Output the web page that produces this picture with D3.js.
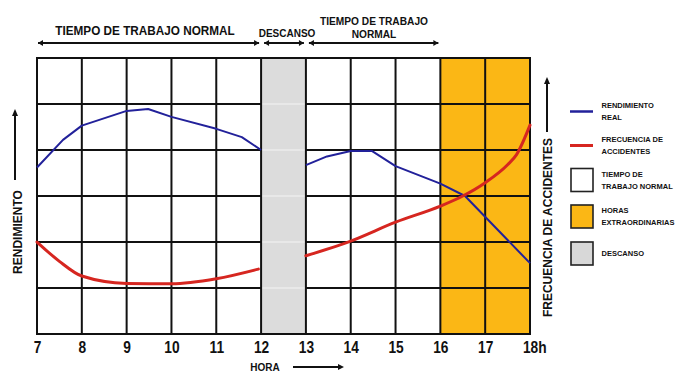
<!DOCTYPE html>
<html>
<head>
<meta charset="utf-8">
<script src="https://cdn.jsdelivr.net/npm/d3@7"></script>
<style>
  html, body { margin: 0; padding: 0; background: #fff; }
  svg { display: block; font-family: "Liberation Sans", Arial, sans-serif; font-weight: bold; }
</style>
</head>
<body>
<svg id="chart" width="676" height="372"></svg>
<script>
// Hours of the working day (grid columns) and their labels
const hours = [7, 8, 9, 10, 11, 12, 13, 14, 15, 16, 17, 18];
const tickLabels = ["7", "8", "9", "10", "11", "12", "13", "14", "15", "16", "17", "18h"];

// Vertical grid rows (relative units, 0 = bottom)
const rows = [0, 1, 2, 3, 4, 5, 6];

// Work periods of the day
const periods = [
  { key: "normal", from: 7, to: 12, label: ["TIEMPO DE TRABAJO NORMAL"] },
  { key: "descanso", from: 12, to: 13, label: ["DESCANSO"] },
  { key: "normal", from: 13, to: 16, label: ["TIEMPO DE TRABAJO", "NORMAL"] },
  { key: "extra", from: 16, to: 18, label: null }
];

// Rendimiento real (morning and afternoon shifts)
const rendimientoManana = [[7, 3.62], [7.58, 4.22], [8, 4.53], [9, 4.85], [9.48, 4.89], [10, 4.72], [11, 4.46], [11.57, 4.28], [12, 4.0]];
const rendimientoTarde = [[13, 3.67], [13.47, 3.86], [14, 3.98], [14.47, 3.98], [15, 3.65], [15.5, 3.46], [16, 3.27], [16.55, 3.0], [18, 1.54]];

// Frecuencia de accidentes (morning and afternoon shifts)
const accidentesManana = [[7, 2.0], [7.5, 1.58], [8, 1.26], [9, 1.1], [10, 1.09], [11, 1.2], [11.94, 1.41]];
const accidentesTarde = [[13, 1.7], [14, 2.02], [15, 2.43], [16, 2.78], [16.5, 3.0], [17, 3.29], [17.5, 3.68], [17.7, 3.9], [18, 4.54]];

// Legend entries
const legendItems = [
  { type: "line", color: "#22219a", width: 2.5, label: ["RENDIMIENTO", "REAL"] },
  { type: "line", color: "#d62620", width: 3, label: ["FRECUENCIA DE", "ACCIDENTES"] },
  { type: "box", color: "#ffffff", label: ["TIEMPO DE", "TRABAJO NORMAL"] },
  { type: "box", color: "#fbb715", label: ["HORAS", "EXTRAORDINARIAS"] },
  { type: "box", color: "#d8d8d8", label: ["DESCANSO"] }
];

const fillFor = { normal: "#ffffff", descanso: "#dcdcdc", extra: "#fbb715" };
const BLUE = "#22219a", RED = "#d62620";

const svg = d3.select("#chart");
const x = d3.scaleLinear().domain([7, 18]).range([37, 530]);
const y = d3.scaleLinear().domain([0, 6]).range([334, 58]);
const yAcc = d3.scaleLinear().domain([0, 6]).range([334, 58]);

// Period backgrounds
svg.append("g").selectAll("rect").data(periods).join("rect")
  .attr("x", d => x(d.from)).attr("y", y(6))
  .attr("width", d => x(d.to) - x(d.from)).attr("height", y(0) - y(6))
  .attr("fill", d => fillFor[d.key]);

// Horizontal grid lines: black on work time, faint inside the break
const grid = svg.append("g");
periods.forEach(p => {
  grid.append("g").selectAll("line").data(rows.slice(1, -1)).join("line")
    .attr("x1", x(p.from)).attr("x2", x(p.to))
    .attr("y1", d => y(d)).attr("y2", d => y(d))
    .attr("stroke", p.key === "descanso" ? "#ededed" : "#111")
    .attr("stroke-width", p.key === "descanso" ? 1.5 : 2);
});
grid.append("g").selectAll("line").data([0, 6]).join("line")
  .attr("x1", x(7) - 1).attr("x2", x(18) + 1)
  .attr("y1", d => y(d)).attr("y2", d => y(d))
  .attr("stroke", "#111").attr("stroke-width", 2);
grid.append("g").selectAll("line").data(hours).join("line")
  .attr("x1", d => x(d)).attr("x2", d => x(d))
  .attr("y1", y(0)).attr("y2", y(6))
  .attr("stroke", "#111").attr("stroke-width", 2);

// Curves
const lineR = d3.line().x(d => x(d[0])).y(d => y(d[1]));
const lineA = d3.line().x(d => x(d[0])).y(d => yAcc(d[1])).curve(d3.curveMonotoneX);
[rendimientoManana, rendimientoTarde].forEach(s => {
  svg.append("path").attr("d", lineR(s)).attr("fill", "none")
    .attr("stroke", BLUE).attr("stroke-width", 2).attr("stroke-linejoin", "round");
});
[accidentesManana, accidentesTarde].forEach(s => {
  svg.append("path").attr("d", lineA(s)).attr("fill", "none")
    .attr("stroke", RED).attr("stroke-width", 3).attr("stroke-linecap", "round");
});

// Hour axis
const axis = svg.append("g").attr("transform", `translate(0,${y(0)})`)
  .call(d3.axisBottom(x).tickValues(hours).tickFormat((d, i) => tickLabels[i]).tickSize(0).tickPadding(8));
axis.select(".domain").remove();
axis.selectAll("text")
  .attr("font-size", 16).attr("font-weight", "bold").attr("fill", "#111")
  .attr("font-family", "'Liberation Sans', Arial, sans-serif")
  .attr("dx", (d, i) => i === hours.length - 1 ? 5 : 0)
  .attr("transform", "scale(0.86,1)");

// Arrow helper
function arrowHead(g, xTip, yTip, dir, len = 6, half = 3) {
  let pts;
  if (dir === "left") pts = [[xTip, yTip], [xTip + len, yTip - half], [xTip + len, yTip + half]];
  else if (dir === "right") pts = [[xTip, yTip], [xTip - len, yTip - half], [xTip - len, yTip + half]];
  else pts = [[xTip, yTip], [xTip - half, yTip + len], [xTip + half, yTip + len]];
  g.append("path").attr("d", d3.line()(pts) + "Z").attr("fill", "#111");
}

// Period annotations above the grid
const header = svg.append("g");
const arrowY = 43;
periods.filter(p => p.label).forEach((p, i) => {
  const x1 = x(p.from) + (i === 0 ? 1 : 3), x2 = x(p.to) - 2;
  header.append("line").attr("x1", x1).attr("x2", x2).attr("y1", arrowY).attr("y2", arrowY)
    .attr("stroke", "#111").attr("stroke-width", 2);
  arrowHead(header, x1, arrowY, "left", 5, 3);
  arrowHead(header, x2, arrowY, "right", 5, 3);
});
function condensed(g, text, cx, by, size, sx) {
  g.append("text").attr("transform", `translate(${cx},${by}) scale(${sx},1)`)
    .attr("text-anchor", "middle").attr("font-size", size).attr("fill", "#111").text(text);
}
condensed(header, periods[0].label[0], 145, 35, 12.5, 0.94);
condensed(header, periods[1].label[0], 287, 37, 10, 1);
condensed(header, periods[2].label[0], 374, 25, 10.5, 0.97);
condensed(header, periods[2].label[1], 374, 37.5, 10.5, 0.97);

// HORA label with arrow
const hora = svg.append("g");
condensed(hora, "HORA", 265, 371, 10, 1);
hora.append("line").attr("x1", 293).attr("x2", 340).attr("y1", 367).attr("y2", 367)
  .attr("stroke", "#111").attr("stroke-width", 2);
arrowHead(hora, 344, 367, "right", 6, 3);

// RENDIMIENTO vertical label
const leftLabel = svg.append("g");
leftLabel.append("text").attr("transform", "translate(21.5,232) rotate(-90)")
  .attr("text-anchor", "middle").attr("font-size", 12).attr("fill", "#111").text("RENDIMIENTO");
leftLabel.append("line").attr("x1", 15).attr("x2", 15).attr("y1", 180).attr("y2", 115)
  .attr("stroke", "#111").attr("stroke-width", 2);
arrowHead(leftLabel, 15, 109, "up", 7, 3);

// FRECUENCIA DE ACCIDENTES vertical label
const rightLabel = svg.append("g");
rightLabel.append("text").attr("transform", "translate(552,227.5) rotate(-90) scale(0.96,1)")
  .attr("text-anchor", "middle").attr("font-size", 12.5).attr("fill", "#111").text("FRECUENCIA DE ACCIDENTES");
rightLabel.append("line").attr("x1", 547).attr("x2", 547).attr("y1", 132).attr("y2", 83)
  .attr("stroke", "#111").attr("stroke-width", 2);
arrowHead(rightLabel, 547, 77, "up", 7, 3);

// Legend
const legend = svg.append("g");
const legendY = [111.5, 145.5, 180, 216.5, 253.5];
legendItems.forEach((item, i) => {
  const cy = legendY[i];
  const g = legend.append("g");
  if (item.type === "line") {
    g.append("line").attr("x1", 570).attr("x2", 593).attr("y1", cy).attr("y2", cy)
      .attr("stroke", item.color).attr("stroke-width", item.width);
  } else {
    g.append("rect").attr("x", 571).attr("y", cy - 11.5).attr("width", 22).attr("height", 23)
      .attr("fill", item.color).attr("stroke", "#222").attr("stroke-width", 1.6);
  }
  const n = item.label.length;
  item.label.forEach((t, j) => {
    g.append("text").attr("x", 601.5).attr("y", cy + 2.8 + (j - (n - 1) / 2) * 12)
      .attr("font-size", 7.5).attr("fill", "#111").text(t);
  });
});
</script>
</body>
</html>
